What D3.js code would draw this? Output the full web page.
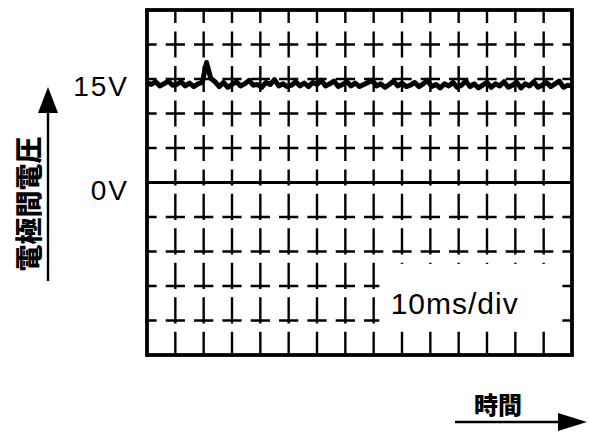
<!DOCTYPE html>
<html lang="ja">
<head>
<meta charset="UTF-8">
<title>電極間電圧</title>
<script src="https://cdn.jsdelivr.net/npm/d3@7/dist/d3.min.js"></script>
<style>
  body { margin: 0; background: #fff; }
  .tick-label { font: 28px "Liberation Sans", Arial, sans-serif; fill: #000; }
  .axis-title { font-family: "Noto Sans CJK JP", sans-serif; font-weight: 900; fill: #000; }
</style>
</head>
<body>
<script>
  const width = 589, height = 432;

  // time axis: 15 divisions of 10 ms, voltage axis: 10 divisions of 5 V
  const timeDomain = [0, 150];
  const voltDomain = [-25, 25];
  const yLabels = [15, 0];
  const yLabelText = ["15V", "0V"];
  const yTitle = "電極間電圧";
  const xTitle = "時間";
  const scaleNote = "10ms/div";

  // scope trace, sampled every 1.5 ms (volts)
  const traceTime = d3.range(0, 151.5, 1.5);
  const traceVolts = [
    14.5, 14.2, 14.6, 14.0, 14.3, 14.7, 14.1, 14.2, 14.6, 14.0,
    14.4, 13.9, 14.3, 14.5, 17.4, 15.1, 14.6, 13.9, 14.5, 13.8,
    14.2, 14.6, 14.0, 14.3, 14.8, 14.1, 14.2, 13.8, 14.5, 14.2,
    14.9, 14.0, 14.3, 13.9, 14.1, 14.6, 14.0, 14.4, 13.9, 14.5,
    14.2, 14.8, 14.0, 14.3, 14.7, 13.9, 14.2, 14.6, 14.0, 14.4,
    13.9, 14.2, 14.5, 14.8, 14.0, 14.3, 13.8, 14.2, 14.7, 14.0,
    14.4, 13.9, 14.1, 14.5, 13.9, 14.3, 14.8, 13.9, 14.2, 13.7,
    14.3, 14.0, 14.5, 13.8, 14.1, 14.7, 13.9, 14.3, 13.7, 14.1,
    14.5, 13.8, 14.3, 14.0, 14.6, 13.8, 14.1, 14.5, 13.7, 14.3,
    14.0, 14.6, 13.8, 14.1, 14.5, 13.9, 14.3, 14.7, 13.8, 14.1,
    14.0
  ];

  const x = d3.scaleLinear().domain(timeDomain).range([147, 572]);
  const y = d3.scaleLinear().domain(voltDomain).range([355, 10]);

  const svg = d3.select("body").append("svg")
      .attr("width", width)
      .attr("height", height);

  const colW = x(10) - x(0);
  const rowH = y(0) - y(5);
  const hDash = colW * 0.68, vDash = rowH * 0.76;

  // graticule: short crosses at every division
  const grid = svg.append("g").attr("stroke", "#000").attr("stroke-width", 2.4);

  grid.selectAll("line.h")
    .data(d3.range(voltDomain[0] + 5, voltDomain[1], 5).filter(v => v !== 0))
    .enter().append("line")
      .attr("class", "h")
      .attr("x1", x(timeDomain[0])).attr("x2", x(timeDomain[1]))
      .attr("y1", d => y(d)).attr("y2", d => y(d))
      .attr("stroke-dasharray", `${hDash} ${colW - hDash}`)
      .attr("stroke-dashoffset", hDash / 2);

  const vTimes = d3.range(timeDomain[0] + 10, timeDomain[1], 10);
  // upper half: dashes centred on the crossings
  grid.selectAll("line.vu")
    .data(vTimes)
    .enter().append("line")
      .attr("class", "vu")
      .attr("x1", d => x(d)).attr("x2", d => x(d))
      .attr("y1", y(voltDomain[1])).attr("y2", y(0))
      .attr("stroke-dasharray", `${vDash} ${rowH - vDash}`)
      .attr("stroke-dashoffset", vDash / 2);
  // lower half: dashes mostly above the crossings
  grid.selectAll("line.vl")
    .data(vTimes)
    .enter().append("line")
      .attr("class", "vl")
      .attr("x1", d => x(d)).attr("x2", d => x(d))
      .attr("y1", y(0)).attr("y2", y(voltDomain[0]))
      .attr("stroke-dasharray", `${vDash} ${rowH - vDash}`)
      .attr("stroke-dashoffset", vDash - 3);

  // 0 V reference line
  svg.append("line")
      .attr("x1", x(timeDomain[0])).attr("x2", x(timeDomain[1]))
      .attr("y1", y(0)).attr("y2", y(0))
      .attr("stroke", "#000").attr("stroke-width", 2.8);

  // blank area behind the scale note
  svg.append("rect")
      .attr("x", x(82)).attr("y", y(-11.8))
      .attr("width", x(145) - x(82))
      .attr("height", y(-21.5) - y(-11.8))
      .attr("fill", "#fff");

  svg.append("text")
      .attr("class", "tick-label")
      .attr("x", x(86)).attr("y", y(-19))
      .style("font-size", "30px")
      .style("letter-spacing", "1px")
      .text(scaleNote);

  // trace
  const line = d3.line()
      .x((d, i) => x(traceTime[i]))
      .y(d => y(d));

  svg.append("path")
      .datum(traceVolts)
      .attr("d", line)
      .attr("fill", "none")
      .attr("stroke", "#000")
      .attr("stroke-width", 5)
      .attr("stroke-linejoin", "round");

  // frame
  svg.append("rect")
      .attr("x", x(timeDomain[0])).attr("y", y(voltDomain[1]))
      .attr("width", x(timeDomain[1]) - x(timeDomain[0]))
      .attr("height", y(voltDomain[0]) - y(voltDomain[1]))
      .attr("fill", "none")
      .attr("stroke", "#000")
      .attr("stroke-width", 3.8);

  // voltage labels
  svg.selectAll("text.vlab")
    .data(yLabels)
    .enter().append("text")
      .attr("class", "tick-label vlab")
      .attr("x", 129)
      .attr("y", d => y(d) + 17)
      .attr("text-anchor", "end")
      .style("letter-spacing", "2px")
      .text((d, i) => yLabelText[i]);

  // vertical axis arrow and title
  svg.append("line")
      .attr("x1", 48).attr("x2", 48)
      .attr("y1", 110).attr("y2", 281)
      .attr("stroke", "#000").attr("stroke-width", 2.4);
  svg.append("path")
      .attr("d", "M48,87 L58,113 L38,113 Z")
      .attr("fill", "#000");
  svg.append("text")
      .attr("class", "axis-title")
      .attr("transform", "translate(39,204) rotate(-90)")
      .attr("text-anchor", "middle")
      .style("font-size", "27px")
      .text(yTitle);

  // horizontal axis arrow and title
  svg.append("line")
      .attr("x1", 455).attr("x2", 562)
      .attr("y1", 422).attr("y2", 422)
      .attr("stroke", "#000").attr("stroke-width", 2.6);
  svg.append("path")
      .attr("d", "M587,422 L558,413 L558,431 Z")
      .attr("fill", "#000");
  svg.append("text")
      .attr("class", "axis-title")
      .attr("x", 498).attr("y", 414)
      .attr("text-anchor", "middle")
      .style("font-size", "24px")
      .text(xTitle);
</script>
</body>
</html>
